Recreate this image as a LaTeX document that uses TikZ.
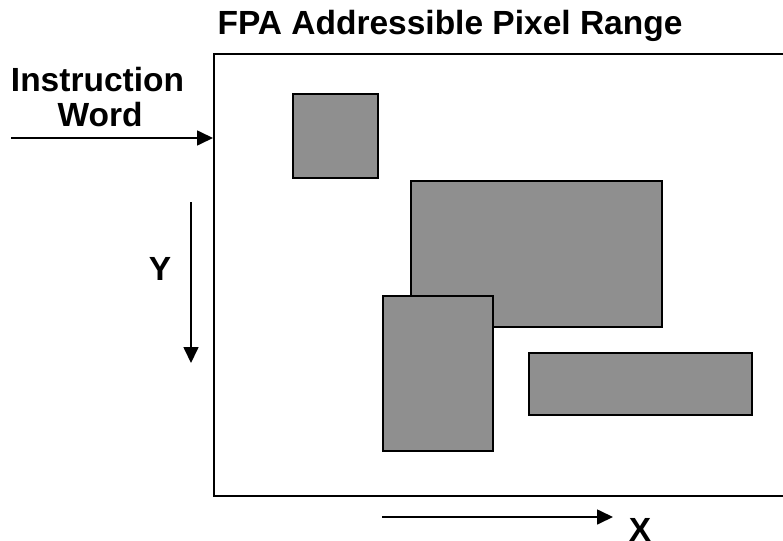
\documentclass[tikz,border=0pt]{standalone}
\usepackage{fontspec}
\setmainfont{Liberation Sans}
\usetikzlibrary{arrows.meta}
\begin{document}
\begin{tikzpicture}[x=1pt,y=-1pt,
  lbl/.style={font=\fontsize{33.5}{35}\selectfont\bfseries, inner sep=0pt, anchor=base},
  pix/.style={draw=black, fill={rgb,255:red,143;green,143;blue,143}, line width=2pt, inner sep=0pt, anchor=north west},
  frm/.style={draw=black, line width=2pt, inner sep=0pt, anchor=north west},
  arr/.style={line width=1.7pt, -{Triangle[length=16pt,width=15pt]}}]
\useasboundingbox (0,0) rectangle (783,540);
\clip (0,0) rectangle (783,540);
\node[frm, minimum width=580pt, minimum height=442pt] (frame) at (213,53) {};
\node[pix, minimum width=85pt, minimum height=84pt] (sq) at (292,93) {};
\node[pix, minimum width=251pt, minimum height=146pt] (big) at (410,180) {};
\node[pix, minimum width=110pt, minimum height=155pt] (tall) at (382,295) {};
\node[pix, minimum width=223pt, minimum height=62pt] (wide) at (528,352) {};
\node[lbl] (title) at (450,35) {FPA Addressible Pixel Range};
\node[lbl] (instr) at (97.5,92) {Instruction};
\node[lbl] (word) at (100,127) {Word};
\node[lbl] (ylbl) at (160,280) {Y};
\node[lbl] (xlbl) at (640,541) {X};
\coordinate (iw0) at (11,138);
\draw[arr] (iw0) -- (iw0 -| frame.west);
\coordinate (y0) at (191,202);
\coordinate (y1) at (191,363);
\draw[arr] (y0) -- (y1);
\coordinate (x0) at (382,517);
\coordinate (x1) at (613,517);
\draw[arr] (x0) -- (x1);
\end{tikzpicture}
\end{document}
